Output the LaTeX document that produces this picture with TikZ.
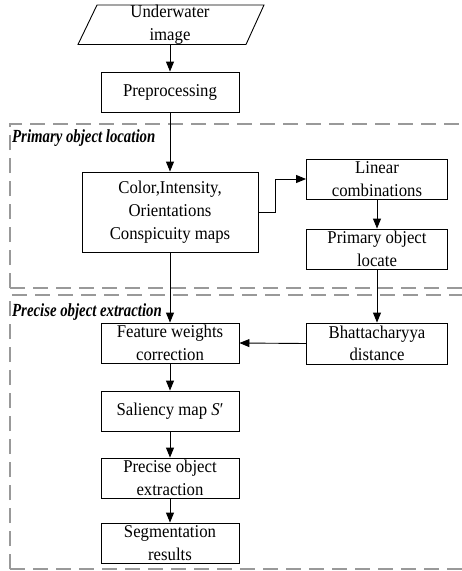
\documentclass[tikz,border=0pt]{standalone}
\usepackage{fontspec}
\setmainfont{Liberation Serif}[FakeStretch=0.93]
\newfontfamily\labfont{Liberation Serif}[FakeStretch=0.8]
\usetikzlibrary{arrows.meta}
\begin{document}
\begin{tikzpicture}[x=1pt,y=-1pt,
  box/.style={draw,line width=0.9pt,align=center,inner sep=0pt,
    font=\fontsize{18}{22.5}\selectfont},
  plain/.style={align=center,inner sep=0pt,font=\fontsize{18}{22.5}\selectfont},
  arr/.style={line width=0.9pt,-{Triangle[length=10pt,width=8pt]}},
  region/.style={draw=gray!80,line width=1.6pt,dash pattern=on 15pt off 8pt},
  lab/.style={inner sep=0pt,font=\labfont\fontsize{18.5}{20}\selectfont\bfseries\itshape}]
\useasboundingbox (0,0) rectangle (462,571);
% regions
\draw[region] (10,288) -- (10,124) -- (462,124);
\draw[region] (10,288) -- (462,288);
\draw[region] (10,569) -- (10,295) -- (462,295);
\draw[region] (10,569) -- (462,569);
\node[lab,anchor=base west] (lab1) at (12,142) {Primary object location};
\node[lab,anchor=base west] (lab2) at (12,316) {Precise object extraction};
% input parallelogram
\draw[line width=0.9pt] (97,5) -- (264,5) -- (246,44.5) -- (78,44.5) -- cycle;
\node[plain,minimum width=150pt,minimum height=39.5pt] (inp) at (170,24.75) {Underwater\\image};
% boxes
\node[box,minimum width=138pt,minimum height=40pt] (pre) at (170,92) {Preprocessing};
\node[box,minimum width=176pt,minimum height=80pt,font=\fontsize{18}{23}\selectfont] (col) at (170,212) {Color,Intensity,\\Orientations\\Conspicuity maps};
\node[box,minimum width=141pt,minimum height=40pt] (lin) at (377,179) {Linear\\combinations};
\node[box,minimum width=141pt,minimum height=40pt] (pri) at (377,249) {Primary object\\locate};
\node[box,minimum width=141pt,minimum height=41pt] (bha) at (377,343.5) {Bhattacharyya\\distance};
\node[box,minimum width=138pt,minimum height=40pt] (fea) at (170,343) {Feature weights\\correction};
\node[box,minimum width=138pt,minimum height=40pt] (sal) at (170,411) {Saliency map \textit{S}′};
\node[box,minimum width=138pt,minimum height=40pt] (pro) at (170,478) {Precise object\\extraction};
\node[box,minimum width=138pt,minimum height=40pt] (seg) at (170,543) {Segmentation\\results};
% connectors
\draw[arr] (inp.south) -- (pre.north);
\draw[arr] (pre.south) -- (col.north);
\draw[arr] (col.east) -- ++(17,0) |- (lin.west);
\draw[arr] (lin.south) -- (pri.north);
\draw[arr] (pri.south) -- (bha.north);
\draw[arr] (col.south) -- (fea.north);
\draw[arr] (bha.west) -- (fea.east);
\draw[arr] (fea.south) -- (sal.north);
\draw[arr] (sal.south) -- (pro.north);
\draw[arr] (pro.south) -- (seg.north);
\end{tikzpicture}
\end{document}
